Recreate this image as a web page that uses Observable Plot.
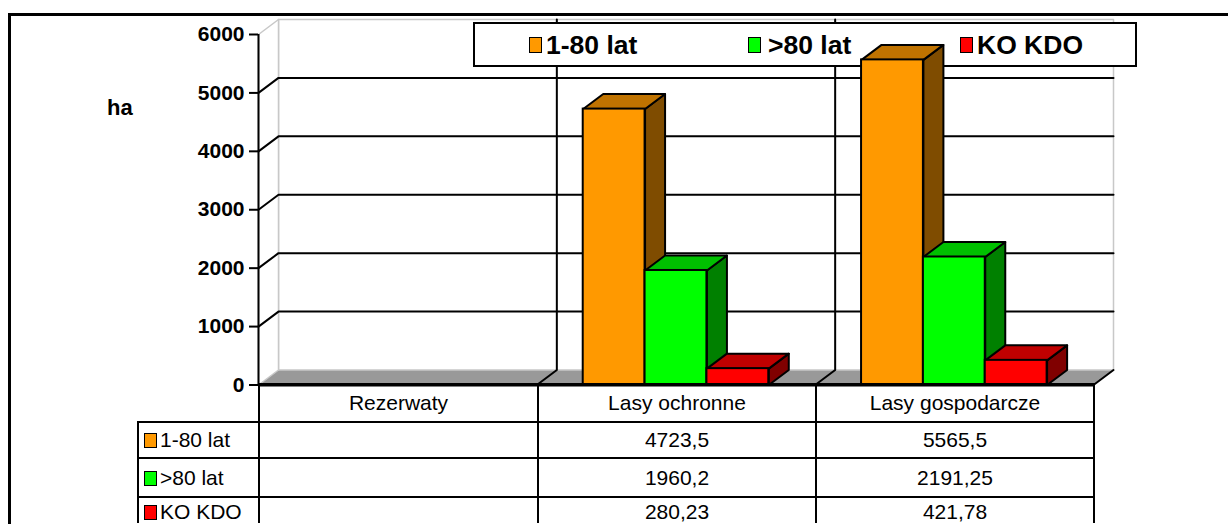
<!DOCTYPE html>
<html>
<head>
<meta charset="utf-8">
<script src="https://cdn.jsdelivr.net/npm/d3@7"></script>
<script src="https://cdn.jsdelivr.net/npm/@observablehq/plot@0.6"></script>
<style>
  body { margin: 0; background: #fff; }
  #page { position: relative; width: 1228px; height: 524px; overflow: hidden; background: #fff;
          font-family: Arial, "Liberation Sans", sans-serif; color: #000; }
  #frame { position: absolute; left: 8px; top: 13px; width: 1400px; height: 700px; border: 3px solid #000; }
  #chartBack, #chartFront { position: absolute; left: 0; top: 0; }
  #unit { position: absolute; left: 107px; top: 95px; font: bold 22px Arial, "Liberation Sans", sans-serif; }
  #legend { position: absolute; left: 473px; top: 22px; width: 660px; height: 41px; border: 2px solid #000; background: #fff; }
  .lg-sw { position: absolute; top: 13px; width: 11px; height: 14px; border: 1.5px solid #000; }
  .lg-tx { position: absolute; top: 6px; font: bold 26.5px Arial, "Liberation Sans", sans-serif; line-height: 30px; white-space: nowrap; }
  #tbl { position: absolute; left: 137px; top: 383px; border-collapse: collapse; table-layout: fixed;
         font: 21px Arial, "Liberation Sans", sans-serif; line-height: 16px; }
  #tbl td { border: 2px solid #000; text-align: center; padding: 0; white-space: nowrap; vertical-align: middle; }
  #tbl td.blank { border: none; }
  #tbl td.lab { text-align: left; padding-left: 5px; }
  #tbl tr.last td { vertical-align: top; padding-top: 6px; border-bottom: none; }
  .sw { display: inline-block; width: 11px; height: 13px; border: 1.5px solid #000; vertical-align: -1px; margin-right: 3px; }
</style>
</head>
<body>
<div id="page">
  <div id="frame"></div>
  <div id="chartBack"></div>
  <div id="unit"></div>
  <div id="legend"></div>
  <div id="chartFront"></div>
  <table id="tbl"></table>
</div>
<script>
// ---- data ----
const categories = ["Rezerwaty", "Lasy ochronne", "Lasy gospodarcze"];
const seriesNames = ["1-80 lat", ">80 lat", "KO KDO"];
const values180 = [null, 4723.5, 5565.5];
const values80 = [null, 1960.2, 2191.25];
const valuesKO = [null, 280.23, 421.78];
const yTicks = [0, 1000, 2000, 3000, 4000, 5000, 6000];
const unitLabel = "ha";
const frontColors = ["#ff9900", "#00ff00", "#ff0000"];
const topColors = ["#c07300", "#00c000", "#c00000"];
const sideColors = ["#7f4c00", "#008000", "#800000"];

const seriesValues = [values180, values80, valuesKO];

// ---- layout ----
const W = 1228, H = 400, ML = 258, MR = 135, MT = 34, MB = 15.5;
const yMax = d3.max(yTicks);
const nCat = categories.length;
const xUnitPx = (W - ML - MR) / nCat;
const yUnitPx = (H - MT - MB) / yMax;
const DX = 20 / xUnitPx;      // depth offset (x units)
const DY = 15 / yUnitPx;      // depth offset (y units)
const nSer = seriesNames.length;
const edgeGap = 1 / 6;
const barW = (1 - 2 * edgeGap) / nSer;

// bars
const bars = [];
categories.forEach((cat, c) => {
  seriesValues.forEach((vals, j) => {
    const v = vals[c];
    if (v == null) return;
    const x1 = c + edgeGap + j * barW, x2 = x1 + barW;
    bars.push({cat, series: seriesNames[j], value: v, x1, x2,
      front: frontColors[j], top: topColors[j], side: sideColors[j], id: c + "-" + j});
  });
});
const sides = [], tops = [];
for (const b of bars) {
  [[b.x2, 0], [b.x2 + DX, DY], [b.x2 + DX, b.value + DY], [b.x2, b.value]]
    .forEach(([x, y]) => sides.push({id: b.id, x, y, fill: b.side}));
  [[b.x1, b.value], [b.x2, b.value], [b.x2 + DX, b.value + DY], [b.x1 + DX, b.value + DY]]
    .forEach(([x, y]) => tops.push({id: b.id, x, y, fill: b.top}));
}

// walls & floor
const walls = [];
[[0 + DX, DY], [nCat + DX, DY], [nCat + DX, yMax + DY], [0 + DX, yMax + DY]]
  .forEach(([x, y]) => walls.push({id: "back", x, y}));
[[0, 0], [DX, DY], [DX, yMax + DY], [0, yMax]]
  .forEach(([x, y]) => walls.push({id: "left", x, y}));
const floor = [[0, 0], [nCat, 0], [nCat + DX, DY], [DX, DY]].map(([x, y]) => ({id: "floor", x, y}));

const grid = [];
yTicks.filter(t => t > 0 && t < yMax).forEach(t => {
  [[0, t], [DX, t + DY], [nCat + DX, t + DY]].forEach(([x, y]) => grid.push({id: "g" + t, x, y}));
});
for (let c = 1; c < nCat; c++) {
  [[c, 0], [c + DX, DY], [c + DX, yMax + DY]].forEach(([x, y]) => grid.push({id: "d" + c, x, y}));
}
[[nCat, 0], [nCat + DX, DY]].forEach(([x, y]) => grid.push({id: "dr", x, y}));

function makePlot(marks, yExtra) {
  return Plot.plot({
    width: W, height: H,
    marginLeft: ML, marginRight: MR, marginTop: MT, marginBottom: MB,
    x: {domain: [0, nCat], axis: null},
    y: Object.assign({domain: [0, yMax]}, yExtra),
    color: {type: "identity"},
    style: {fontFamily: "Arial, 'Liberation Sans', sans-serif", fontSize: "21px", fontWeight: "bold",
            background: "none", overflow: "visible"},
    marks
  });
}

// background layer: floor, walls, gridlines, axis
const backMarks = [
  Plot.line(floor, {x: "x", y: "y", z: "id", fill: "#999999", stroke: "#999999", strokeWidth: 0.5, curve: "linear-closed"}),
  Plot.line(walls, {x: "x", y: "y", z: "id", fill: "white", stroke: "#c8c8c8", strokeWidth: 1.5, curve: "linear-closed"}),
  Plot.line(grid, {x: "x", y: "y", z: "id", stroke: "black", strokeWidth: 2}),
  Plot.ruleX([0], {y1: 0, y2: yMax, strokeWidth: 2})
];
let yExtra = {};
if (typeof Plot.axisY === "function") {
  backMarks.push(Plot.axisY({ticks: yTicks, tickFormat: "d", tickSize: 9, tickPadding: 5, strokeWidth: 2,
    label: null, fontSize: 21, fontWeight: "bold"}));
} else {
  yExtra = {ticks: yTicks, tickFormat: "d", tickSize: 9, tickPadding: 5, label: null};
}
document.getElementById("chartBack").appendChild(makePlot(backMarks, yExtra));

// front layer: 3D bars (drawn over the legend box, as in the original)
const frontMarks = [
  Plot.line(sides, {x: "x", y: "y", z: "id", fill: "fill", stroke: "black", strokeWidth: 2, curve: "linear-closed", strokeLinejoin: "round"}),
  Plot.line(tops, {x: "x", y: "y", z: "id", fill: "fill", stroke: "black", strokeWidth: 2, curve: "linear-closed", strokeLinejoin: "round"}),
  Plot.rect(bars, {x1: "x1", x2: "x2", y1: 0, y2: "value", fill: "front", stroke: "black", strokeWidth: 2}),
  Plot.ruleY([0], {x1: 0, x2: nCat, strokeWidth: 3})
];
document.getElementById("chartFront").appendChild(makePlot(frontMarks, {axis: null}));

document.getElementById("unit").textContent = unitLabel;

// legend
const legend = document.getElementById("legend");
const swLeft = [54, 273, 485], txLeft = [71, 293, 502];
seriesNames.forEach((s, j) => {
  const sw = document.createElement("div");
  sw.className = "lg-sw"; sw.style.left = swLeft[j] + "px"; sw.style.background = frontColors[j];
  const tx = document.createElement("div");
  tx.className = "lg-tx"; tx.style.left = txLeft[j] + "px"; tx.textContent = s;
  legend.appendChild(sw); legend.appendChild(tx);
});

// data table
const fmt = v => v == null ? "" : String(v).replace(".", ",");
const tbl = document.getElementById("tbl");
const colW = [121, 279, 278, 278];
const cg = document.createElement("colgroup");
colW.forEach(w => { const c = document.createElement("col"); c.style.width = w + "px"; cg.appendChild(c); });
tbl.appendChild(cg);
const rowH = [38, 36, 39, 26];
let tr = document.createElement("tr"); tr.style.height = rowH[0] + "px";
let td = document.createElement("td"); td.className = "blank"; tr.appendChild(td);
categories.forEach(c => { const t = document.createElement("td"); t.textContent = c; tr.appendChild(t); });
tbl.appendChild(tr);
seriesNames.forEach((s, j) => {
  const r = document.createElement("tr"); r.style.height = rowH[j + 1] + "px";
  if (j === seriesNames.length - 1) r.className = "last";
  const l = document.createElement("td"); l.className = "lab";
  const sw = document.createElement("span"); sw.className = "sw"; sw.style.background = frontColors[j];
  l.appendChild(sw); l.appendChild(document.createTextNode(s)); r.appendChild(l);
  seriesValues[j].forEach(v => { const t = document.createElement("td"); t.textContent = fmt(v); r.appendChild(t); });
  tbl.appendChild(r);
});
</script>
</body>
</html>
